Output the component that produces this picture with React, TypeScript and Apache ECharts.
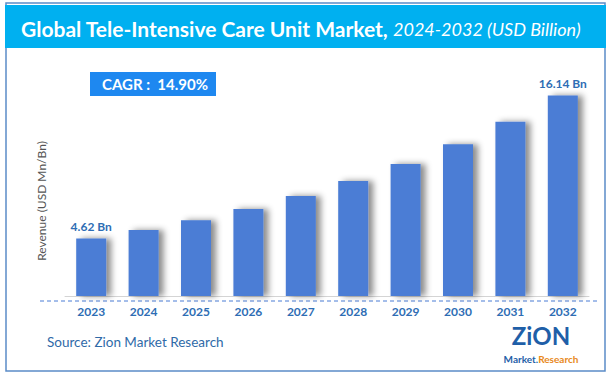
import React, { useEffect, useRef } from "react";
import * as echarts from "echarts";

const years = ["2023", "2024", "2025", "2026", "2027", "2028", "2029", "2030", "2031", "2032"];
const revenue = [4.62, 5.31, 6.1, 7.01, 8.05, 9.25, 10.63, 12.21, 14.03, 16.14];
const titleMain = "Global Tele-Intensive Care Unit Market,";
const titleSub = "2024-2032 (USD Billion)";
const cagrText = "CAGR :  14.90%";
const yName = "Revenue (USD Mn/Bn)";
const sourceText = "Source: Zion Market Research";

export default function App() {
  const ref = useRef<HTMLDivElement>(null);
  useEffect(() => {
    if (!ref.current) return;
    const chart = echarts.init(ref.current, null, { renderer: "svg" });
    const font = "Lato, 'Open Sans', sans-serif";
    const last = revenue.length - 1;
    chart.setOption({
      animation: false,
      backgroundColor: "#ffffff",
      textStyle: { fontFamily: font },
      title: {
        text: `{b|${titleMain}} {i|${titleSub}}`,
        left: 16,
        top: 13,
        textStyle: {
          fontWeight: "normal",
          rich: {
            b: { fontFamily: font, fontSize: 21, fontWeight: "bold", color: "#ffffff" },
            i: { fontFamily: font, fontSize: 18, fontWeight: "normal", fontStyle: "italic", color: "#ffffff" },
          },
        },
      },
      grid: { left: 65, right: 24, top: 60, bottom: 83 },
      xAxis: {
        type: "category",
        data: years,
        axisLine: { lineStyle: { color: "#d4d4d4", width: 1 } },
        axisTick: { show: false },
        axisLabel: { color: "#2e6db4", fontWeight: "bold", fontSize: 12, margin: 9, fontFamily: font },
      },
      yAxis: {
        type: "value",
        min: 0,
        max: 19,
        axisLine: { show: false },
        axisLabel: { show: false },
        axisTick: { show: false },
        splitLine: { show: false },
      },
      series: [
        {
          type: "bar",
          barWidth: 30,
          data: revenue.map((v, i) => ({
            value: v,
            label: {
              show: i === 0 || i === last,
              position: "top",
              formatter: `${v} Bn`,
              color: "#2e6db4",
              fontWeight: "bold",
              fontSize: 12,
              distance: 6,
              fontFamily: font,
            },
          })),
          itemStyle: {
            color: "#4b7dd5",
            shadowColor: "rgba(0,0,0,0.45)",
            shadowBlur: 6,
            shadowOffsetX: 5,
            shadowOffsetY: 0,
          },
        },
      ],
      graphic: [
        {
          type: "rect",
          z: -10,
          shape: { x: 6, y: 3, width: 599, height: 368 },
          style: { fill: "#ffffff", stroke: "#5b8cc8", lineWidth: 1.5 },
        },
        {
          type: "rect",
          z: -5,
          shape: { x: 5, y: 5, width: 601, height: 43 },
          style: { fill: "#00b0f0" },
        },
        {
          type: "rect",
          shape: { x: 90, y: 72, width: 126, height: 24 },
          style: { fill: "#1e88f0" },
        },
        {
          type: "text",
          x: 155,
          y: 84,
          style: {
            text: cagrText,
            fill: "#ffffff",
            font: `bold 15px ${font}`,
            align: "center",
            verticalAlign: "middle",
          },
        },
        {
          type: "text",
          x: 41,
          y: 201,
          rotation: Math.PI / 2,
          style: {
            text: yName,
            fill: "#555555",
            font: `12px ${font}`,
            align: "center",
            verticalAlign: "middle",
          },
        },
        {
          type: "line",
          shape: { x1: 40, y1: 301, x2: 597, y2: 301 },
          style: { stroke: "#4b7dd5", lineWidth: 1, lineDash: [4, 3] },
        },
        {
          type: "text",
          x: 47,
          y: 342,
          style: {
            text: sourceText,
            fill: "#2f6aa8",
            font: `13.5px ${font}`,
            verticalAlign: "middle",
          },
        },
        {
          type: "text",
          x: 541,
          y: 335,
          style: {
            text: "ZiON",
            fill: "#1f5fa8",
            font: `bold 24px ${font}`,
            align: "center",
            verticalAlign: "middle",
          },
        },
        {
          type: "text",
          x: 541,
          y: 359,
          style: {
            text: "{a|Market.}{b|Research}",
            align: "center",
            verticalAlign: "middle",
            rich: {
              a: { fill: "#1f5fa8", font: `bold 10px ${font}` },
              b: { fill: "#e8891b", font: `bold 10px ${font}` },
            },
          },
        },
      ],
    });
    return () => chart.dispose();
  }, []);
  return (
    <div
      ref={ref}
      style={{ position: "absolute", left: 0, top: 0, width: 613, height: 379 }}
    />
  );
}
